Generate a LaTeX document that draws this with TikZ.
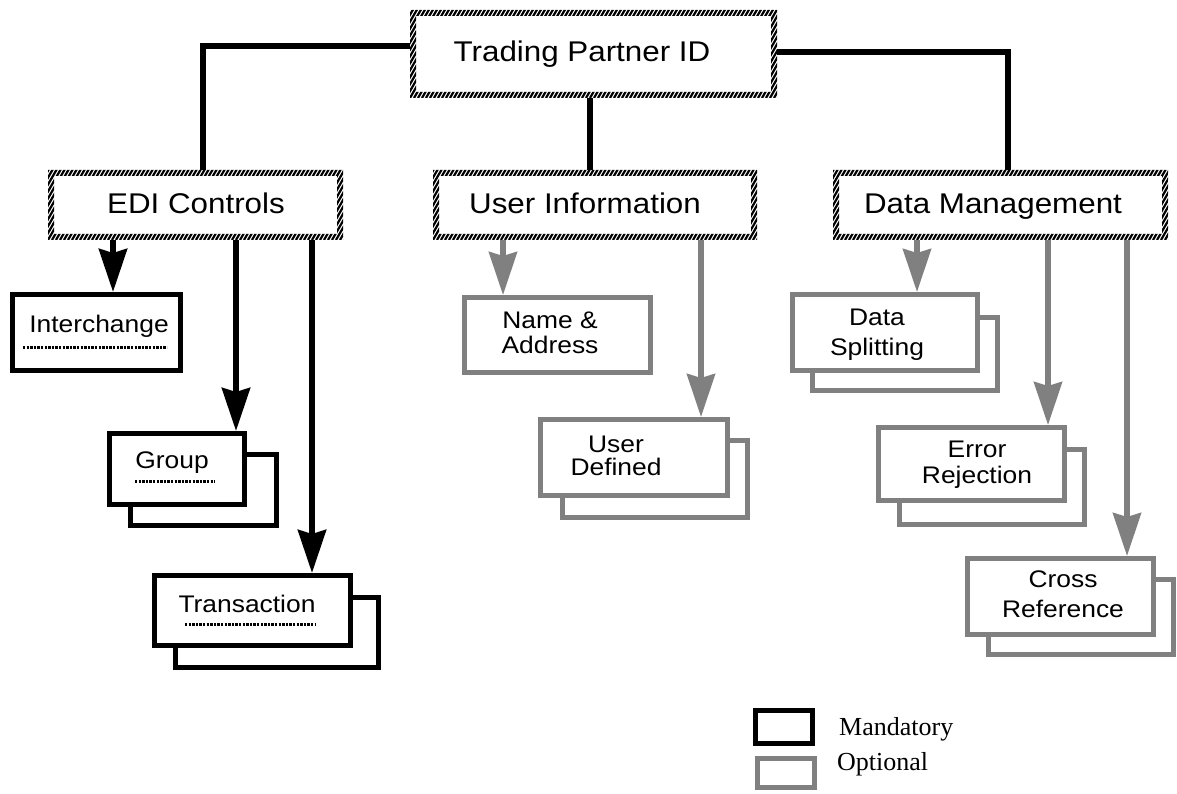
\documentclass[tikz,border=0pt]{standalone}
\usepackage{fontspec}
\setmainfont{Liberation Sans}[FakeStretch=1.1]
\newfontfamily\legendfont{Liberation Serif}
\usetikzlibrary{arrows.meta}
\definecolor{optgray}{HTML}{808080}
\tikzset{
  hbox/.style={draw=none, fill=white, rectangle, inner sep=0pt, outer sep=0pt},
  mbox/.style={draw=black, line width=5pt, fill=white, rectangle, inner sep=0pt},
  obox/.style={draw=optgray, line width=5pt, fill=white, rectangle, inner sep=0pt},
  bigtxt/.style={font=\fontsize{28.5}{30}\selectfont, inner sep=0pt, anchor=base},
  smalltxt/.style={font=\fontsize{24}{26}\selectfont, inner sep=0pt, anchor=base, align=center},
  legtxt/.style={font=\legendfont\fontsize{26}{28}\selectfont, inner sep=0pt, anchor=base west},
  conn/.style={line width=6pt, black},
  bigtip/.style={-{Stealth[length=43pt 0 0, width=28pt 0 0, inset=4pt 0 0]}},
  marrow/.style={line width=6pt, black, bigtip},
  oarrow/.style={line width=5.5pt, optgray, bigtip},
  stripe/.style={line width=2.2pt, black},
  dotline/.style={line width=3pt, dash pattern=on 2.4pt off 1.2pt},
}
\newcommand{\hatchring}[1]{%
  \begin{scope}[even odd rule]
    \clip (#1.north west) rectangle (#1.south east)
      ([shift={(6pt,-6pt)}]#1.north west) rectangle ([shift={(-6pt,6pt)}]#1.south east);
    \foreach \k in {0,...,112}
      \draw[stripe] ([xshift=\k*4pt-60pt]#1.south west) -- ++(60pt,104pt);
  \end{scope}}
\begin{document}
\begin{tikzpicture}[x=1pt,y=-1pt]
\useasboundingbox (0,0) rectangle (1177,794);

% hatched boxes
\node[hbox, minimum width=367pt, minimum height=88pt] (tp) at (593.5,54) {};
\node[hbox, minimum width=295pt, minimum height=70pt] (edi) at (195.5,205) {};
\node[hbox, minimum width=324pt, minimum height=70pt] (ui) at (595,205) {};
\node[hbox, minimum width=335pt, minimum height=70pt] (dm) at (1000.5,205) {};

% connectors from top
\draw[conn] (tp.west |- 0,46) -| (edi.north -| 203,0);
\draw[conn] (tp.east |- 0,52) -| (dm.north -| 1008,0);
\draw[conn] (tp.south -| 590,0) -- (ui.north -| 590,0);

\hatchring{tp}\hatchring{edi}\hatchring{ui}\hatchring{dm}

\node[bigtxt] (tpt) at (582,62) {Trading Partner ID};
\node[bigtxt] (edit) at (196,214) {EDI Controls};
\node[bigtxt] (uit) at (585,214) {User Information};
\node[bigtxt] (dmt) at (993,214) {Data Management};

% mandatory boxes
\node[mbox, minimum width=168pt, minimum height=76pt] (inter) at (96.5,332.5) {};
\node[mbox, minimum width=146pt, minimum height=71pt] (grpb) at (203.5,490) {};
\node[mbox, minimum width=135pt, minimum height=71pt] (grp) at (177,469) {};
\node[mbox, minimum width=203pt, minimum height=70pt] (transb) at (277,632.5) {};
\node[mbox, minimum width=196pt, minimum height=70pt] (trans) at (252.5,610.5) {};

% optional boxes
\node[obox, minimum width=186pt, minimum height=75pt] (na) at (557.5,335) {};
\node[obox, minimum width=185pt, minimum height=77pt] (udb) at (655,479) {};
\node[obox, minimum width=187pt, minimum height=76pt] (ud) at (634,457.5) {};
\node[obox, minimum width=185pt, minimum height=73pt] (dsb) at (905,354) {};
\node[obox, minimum width=185pt, minimum height=76pt] (ds) at (885,332.5) {};
\node[obox, minimum width=185pt, minimum height=75pt] (erb) at (992,487) {};
\node[obox, minimum width=186pt, minimum height=73pt] (er) at (971.5,464) {};
\node[obox, minimum width=185pt, minimum height=75pt] (crb) at (1081,617) {};
\node[obox, minimum width=186pt, minimum height=76pt] (cr) at (1060.5,596.5) {};

% arrows
\draw[marrow] (edi.south -| 113,0) -- (inter.north -| 113,0);
\draw[marrow] (edi.south -| 236,0) -- (grp.north -| 236,0);
\draw[marrow] (edi.south -| 312,0) -- (trans.north -| 312,0);
\draw[oarrow] (ui.south -| 503,0) -- (na.north -| 503,0);
\draw[oarrow] (ui.south -| 701,0) -- (ud.north -| 701,0);
\draw[oarrow] (dm.south -| 917,0) -- (ds.north -| 917,0);
\draw[oarrow] (dm.south -| 1048,0) -- (er.north -| 1048,0);
\draw[oarrow] (dm.south -| 1127,0) -- (cr.north -| 1127,0);

% texts
\node[smalltxt] (intert) at (99,332) {Interchange};
\draw[dotline] (23,347) -- (167,347);
\node[smalltxt] (grpt) at (172,468) {Group};
\draw[dotline] (135,481) -- (215,481);
\node[smalltxt] (transt) at (247,612) {Transaction};
\draw[dotline] (185,624) -- (315,624);
\node[smalltxt] (nat) at (550,353) {Name \&\\[-1pt]Address};
\node[smalltxt] (udt) at (616,475) {User\\[-3pt]Defined};
\node[smalltxt] (dst) at (877,355) {Data\\[4pt]Splitting};
\node[smalltxt] (ert) at (977,483) {Error\\Rejection};
\node[smalltxt] (crt) at (1063,617) {Cross\\[4pt]Reference};

% legend
\node[mbox, minimum width=57pt, minimum height=33pt] (legm) at (784,727) {};
\node[obox, minimum width=57pt, minimum height=29pt] (lego) at (786,773) {};
\node[legtxt] (legmt) at (839,735) {Mandatory};
\node[legtxt] (legot) at (837,770) {Optional};
\end{tikzpicture}
\end{document}
